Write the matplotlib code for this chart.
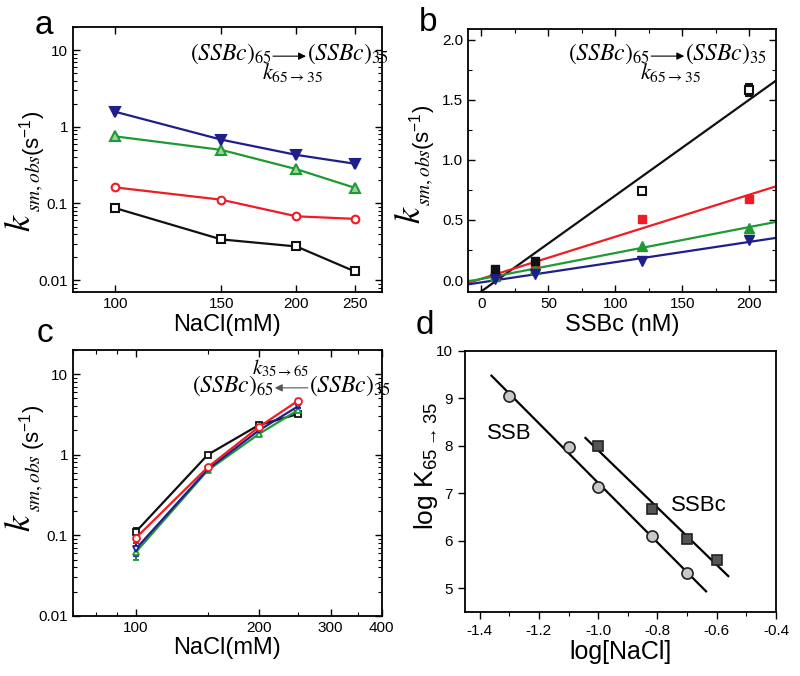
import matplotlib
matplotlib.use("Agg")
import matplotlib.pyplot as plt
import numpy as np
from matplotlib.ticker import FixedLocator, NullFormatter, MultipleLocator, LogLocator, FormatStrFormatter

plt.rcParams['font.family'] = ['Liberation Sans', 'DejaVu Sans']
plt.rcParams['mathtext.fontset'] = 'stix'

# 颜色
BLK = '#111111'
RED = '#ee1c24'
GRN = '#1e9a32'
BLU = '#1f1f8c'

# ---- 数据 a : k vs NaCl (65->35)
nacl = [100, 150, 200, 250]
a_black = [0.087, 0.034, 0.0275, 0.013]
a_red = [0.162, 0.112, 0.068, 0.063]
a_green = [0.75, 0.50, 0.28, 0.16]
a_blue = [1.57, 0.68, 0.43, 0.33]

# ---- 数据 b : k vs SSBc
ssbc = [10, 40, 120, 200]
b_black = [0.09, 0.16, 0.745, 1.58]
b_black_err = [0.01, 0.01, 0.03, 0.05]
b_black_filled = [True, True, False, False]
b_red = [0.04, 0.12, 0.505, 0.672]
b_green = [0.03, 0.09, 0.28, 0.435]
b_blue = [0.005, 0.05, 0.16, 0.33]

# ---- 数据 c : k vs NaCl (35->65)
c_black = [0.111, 1.0, 2.33, 3.2]
c_red = [0.093, 0.70, 2.2, 4.7]
c_blue = [0.068, 0.66, 2.0, 4.0]
c_green = [0.062, 0.64, 1.8, 3.6]
c_err = [0.012, 0.03, 0.1, 0.2]

# ---- 数据 d : log K vs log[NaCl]
ssb_x = [-1.3, -1.1, -1.0, -0.82, -0.7]
ssb_y = [9.05, 7.98, 7.13, 6.1, 5.32]
ssb_fit_range = [-1.36, -0.636]
ssbc_x = [-1.0, -0.82, -0.7, -0.6]
ssbc_y = [8.0, 6.67, 6.03, 5.6]
ssbc_fit_range = [-1.043, -0.561]

fig = plt.figure(figsize=(8, 6.76), dpi=100)
ax_a = fig.add_axes([0.091, 0.568, 0.386, 0.392])
ax_b = fig.add_axes([0.585, 0.568, 0.385, 0.389])
ax_c = fig.add_axes([0.091, 0.089, 0.386, 0.3935])
ax_d = fig.add_axes([0.581, 0.095, 0.389, 0.386])

TICKFS = 11
LABFS = 17


def box_style(ax):
    for s in ax.spines.values():
        s.set_linewidth(1.3)
    ax.tick_params(which='both', direction='in', top=True, right=True,
                   labelsize=TICKFS)
    ax.tick_params(which='major', length=5, width=1)
    ax.tick_params(which='minor', length=3, width=0.8)


def k_label(ax, xk, yk, xs, ys, xp, yp):
    # 大号斜体 k + 下标 + (s-1)
    ax.text(xk, yk, r'$k$', rotation=90, transform=ax.transAxes,
            fontsize=26, ha='center', va='center')
    ax.text(xs, ys, r'$sm,obs$', rotation=90, transform=ax.transAxes,
            fontsize=14, ha='center', va='center')
    ax.text(xp, yp, r'(s$^{\mathregular{-1}}$)', rotation=90,
            transform=ax.transAxes, fontsize=16, ha='center', va='center')


def reaction(ax, x, y, forward=True, fs=17):
    # (SSBc)65 -> (SSBc)35 反应式, 用像素量位置
    rend = fig.canvas.get_renderer()
    inv = ax.transAxes.inverted()
    t1 = ax.text(x, y, r'$(SSBc)_{\mathit{65}}$', transform=ax.transAxes,
                 fontsize=fs, ha='left', va='baseline')
    bb = t1.get_window_extent(renderer=rend)
    y0 = ax.transAxes.transform((x, y))[1]
    xa0 = bb.x1 + 1
    xa1 = xa0 + 33
    ya = y0 + 4
    p0 = inv.transform((xa0, ya))
    p1 = inv.transform((xa1, ya))
    t2x = inv.transform((xa1 + 1, y0))[0]
    ax.text(t2x, y, r'$(SSBc)_{\mathit{35}}$', transform=ax.transAxes,
            fontsize=fs, ha='left', va='baseline')
    if forward:
        ax.annotate('', xy=p1, xytext=p0, xycoords='axes fraction',
                    arrowprops=dict(arrowstyle='-|>', color='k', lw=0.8,
                                    mutation_scale=11, shrinkA=0, shrinkB=0))
        kx, ky = inv.transform(((xa0 + xa1) / 2 + 3, y0 - 19))
        ax.text(kx, ky, r'$k_{\mathit{65\rightarrow35}}$', transform=ax.transAxes,
                fontsize=fs - 1, ha='center', va='baseline')
    else:
        ax.annotate('', xy=p0, xytext=p1, xycoords='axes fraction',
                    arrowprops=dict(arrowstyle='-|>', color='#555555', lw=0.8,
                                    mutation_scale=11, shrinkA=0, shrinkB=0))
        kx, ky = inv.transform((xa1 + 2, y0 + 18))
        ax.text(kx, ky, r'$k_{\mathit{35\rightarrow65}}$', transform=ax.transAxes,
                fontsize=fs - 2, ha='right', va='baseline')


# ---------- a ----------
ax = ax_a
ax.plot(nacl, a_black, '-s', color=BLK, mfc='white', ms=5.5, mew=1.5, lw=1.6)
ax.plot(nacl, a_red, '-o', color=RED, mfc='white', ms=5.5, mew=1.5, lw=1.6)
ax.plot(nacl, a_green, '-^', color=GRN, mfc='#9ed29e', ms=7, mew=1.5, lw=1.6)
ax.plot(nacl, a_blue, '-v', color=BLU, mfc=BLU, ms=7, mew=1.5, lw=1.6)
ax.set_xscale('log')
ax.set_yscale('log')
ax.set_xlim(85, 277)
ax.set_ylim(0.007, 20)
ax.xaxis.set_major_locator(FixedLocator(nacl))
ax.xaxis.set_minor_locator(FixedLocator([]))
ax.set_xticklabels([str(v) for v in nacl])
ax.set_yticks([0.01, 0.1, 1, 10])
ax.set_yticklabels(['0.01', '0.1', '1', '10'])
ax.yaxis.set_minor_locator(LogLocator(base=10, subs=np.arange(2, 10)))
ax.yaxis.set_minor_formatter(NullFormatter())
box_style(ax)
ax.set_xlabel('NaCl(mM)', fontsize=LABFS, labelpad=2)
k_label(ax, -0.168, 0.26, -0.124, 0.41, -0.13, 0.60)

# ---------- b ----------
ax = ax_b
xfit = np.array([-10, 220])
for yv, col in [(b_black, BLK), (b_red, RED), (b_green, GRN), (b_blue, BLU)]:
    p = np.polyfit(ssbc, yv, 1)
    ax.plot(xfit, np.polyval(p, xfit), color=col, lw=1.6, zorder=2)
bx = np.array(ssbc)
by = np.array(b_black)
be = np.array(b_black_err)
fm = np.array(b_black_filled)
ax.errorbar(bx[fm], by[fm], yerr=be[fm], fmt='s', color=BLK, mfc=BLK, ms=6,
            capsize=3, zorder=3)
ax.errorbar(bx[~fm], by[~fm], yerr=be[~fm], fmt='s', color=BLK, mfc='white',
            ms=6, mew=1.5, capsize=3, zorder=3)
ax.plot(ssbc, b_red, 's', color=RED, ms=6, zorder=3)
ax.plot(ssbc, b_green, '^', color=GRN, ms=7, zorder=3)
ax.plot(ssbc, b_blue, 'v', color=BLU, ms=7, zorder=3)
ax.set_xlim(-10, 220)
ax.set_ylim(-0.1, 2.09)
ax.xaxis.set_major_locator(MultipleLocator(50))
ax.xaxis.set_minor_locator(MultipleLocator(25))
ax.yaxis.set_major_locator(MultipleLocator(0.5))
ax.yaxis.set_minor_locator(MultipleLocator(0.25))
ax.yaxis.set_major_formatter(FormatStrFormatter('%.1f'))
box_style(ax)
ax.set_xlabel('SSBc (nM)', fontsize=LABFS, labelpad=2)
k_label(ax, -0.188, 0.293, -0.143, 0.437, -0.146, 0.627)

# ---------- c ----------
ax = ax_c
ax.errorbar(nacl, c_black, yerr=c_err, fmt='-s', color=BLK, mfc='white', ms=5,
            mew=1.3, lw=1.6, capsize=2)
ax.errorbar(nacl, c_green, yerr=c_err, fmt='-^', color=GRN, mfc='white', ms=5,
            mew=1.3, lw=1.6, capsize=2)
ax.errorbar(nacl, c_blue, yerr=c_err, fmt='-v', color=BLU, mfc='white', ms=5,
            mew=1.3, lw=1.6, capsize=2)
ax.errorbar(nacl, c_red, yerr=c_err, fmt='-o', color=RED, mfc='white', ms=5,
            mew=1.3, lw=1.6, capsize=2)
ax.set_xscale('log')
ax.set_yscale('log')
ax.set_xlim(70, 400)
ax.set_ylim(0.01, 20)
ax.xaxis.set_major_locator(FixedLocator([100, 200, 300, 400]))
ax.set_xticklabels(['100', '200', '300', '400'])
ax.xaxis.set_minor_locator(FixedLocator([70, 80, 90, 150, 250, 350]))
ax.xaxis.set_minor_formatter(NullFormatter())
ax.set_yticks([0.01, 0.1, 1, 10])
ax.set_yticklabels(['0.01', '0.1', '1', '10'])
ax.yaxis.set_minor_locator(LogLocator(base=10, subs=np.arange(2, 10)))
ax.yaxis.set_minor_formatter(NullFormatter())
box_style(ax)
ax.set_xlabel('NaCl(mM)', fontsize=LABFS, labelpad=2)
k_label(ax, -0.168, 0.35, -0.124, 0.50, -0.13, 0.71)

# ---------- d ----------
ax = ax_d
for xs, ys, rng in [(ssb_x, ssb_y, ssb_fit_range), (ssbc_x, ssbc_y, ssbc_fit_range)]:
    p = np.polyfit(xs, ys, 1)
    xr = np.array(rng)
    ax.plot(xr, np.polyval(p, xr), color='k', lw=1.6, zorder=2)
ax.plot(ssb_x, ssb_y, 'o', color='#c8c8c8', mec='#222222', ms=8, mew=1.2, zorder=3)
ax.plot(ssbc_x, ssbc_y, 's', color='#555555', mec='#222222', ms=7.5, mew=1.2, zorder=3)
ax.text(-1.30, 8.26, 'SSB', fontsize=16, ha='center', va='center')
ax.text(-0.755, 6.73, 'SSBc', fontsize=16, ha='left', va='center')
ax.set_xlim(-1.45, -0.4)
ax.set_ylim(4.5, 10)
ax.xaxis.set_major_locator(MultipleLocator(0.2))
ax.xaxis.set_minor_locator(MultipleLocator(0.1))
ax.yaxis.set_major_locator(MultipleLocator(1))
ax.xaxis.set_major_formatter(FormatStrFormatter('%.1f'))
for s in ax.spines.values():
    s.set_linewidth(1.3)
ax.tick_params(which='both', direction='out', labelsize=TICKFS)
ax.tick_params(which='major', length=5, width=1)
ax.tick_params(which='minor', length=3, width=0.8)
ax.set_xlabel('log[NaCl]', fontsize=18, labelpad=2)
ax.set_ylabel(r'log K$_{\mathregular{65\rightarrow35}}$', fontsize=19,
              math_fontfamily='dejavusans')
ax.yaxis.set_label_coords(-0.08, 0.56)

# 反应式
reaction(ax_a, 0.379, 0.875, forward=True)
reaction(ax_b, 0.325, 0.882, forward=True)
reaction(ax_c, 0.385, 0.842, forward=False)

# 面板字母
for lx, ly, lab in [(0.055, 0.963, 'a'), (0.535, 0.967, 'b'),
                    (0.056, 0.507, 'c'), (0.531, 0.519, 'd')]:
    fig.text(lx, ly, lab, fontsize=24, ha='center', va='center')

fig.savefig('out.png', dpi=100)
